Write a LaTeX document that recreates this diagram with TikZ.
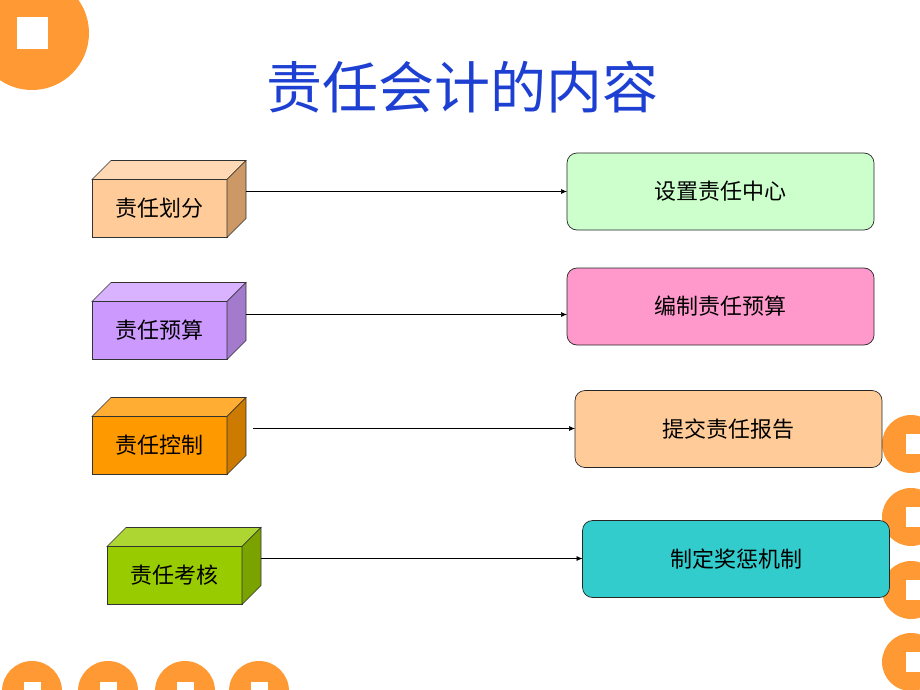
\documentclass[tikz,border=0pt]{standalone}
\usepackage{fontspec}
\setmainfont{Noto Sans CJK SC}
\newfontfamily\cjk{Noto Sans CJK SC}
\usetikzlibrary{arrows.meta,calc}
\definecolor{deco}{RGB}{255,153,51}
\definecolor{titleblue}{RGB}{30,64,210}
\definecolor{f1}{HTML}{FFCC99}\definecolor{t1}{HTML}{FFD9B3}\definecolor{s1}{HTML}{CC9966}
\definecolor{f2}{HTML}{CC99FF}\definecolor{t2}{HTML}{D9B3FF}\definecolor{s2}{HTML}{A37ACC}
\definecolor{f3}{HTML}{FF9900}\definecolor{t3}{HTML}{FFAD33}\definecolor{s3}{HTML}{CC7A00}
\definecolor{f4}{HTML}{99CC00}\definecolor{t4}{HTML}{ADD633}\definecolor{s4}{HTML}{7AA300}
\definecolor{ra}{HTML}{CCFFCC}\definecolor{rb}{HTML}{FF99CC}
\definecolor{rc}{HTML}{FFCC99}\definecolor{rd}{HTML}{33CCCC}
\tikzset{
  dot/.style={fill=deco,draw=none},
  hole/.style={fill=white,draw=none},
  front/.style={draw=black!80,line width=0.6pt,inner sep=0pt,outer sep=0pt,minimum width=135pt,minimum height=58pt,font=\cjk\fontsize{22}{22}\selectfont},
  face/.style={draw=black!80,line width=0.6pt},
  rbox/.style={draw=black!85,line width=0.7pt,rounded corners=10pt,inner sep=0pt,outer sep=0pt,minimum width=307pt,minimum height=77pt,font=\cjk\fontsize{22}{22}\selectfont},
  conn/.style={draw=black,line width=0.6pt,-{Latex[length=6pt,width=5pt]}}
}
\newcommand\cuboid[7]{%
  \node[front,fill=#4] (#1) at (#2+67.5,#3+28.5) {#7};
  \draw[face,fill=#5] (#1.north west) -- ++(19,-19) -- ++(135,0) -- (#1.north east) -- cycle;
  \draw[face,fill=#6] (#1.north east) -- ++(19,-19) -- ++(0,58) -- (#1.south east) -- cycle;
  \coordinate (#1s) at ($(#1.east)+(19,-17)$);
}
\begin{document}
\begin{tikzpicture}[x=1pt,y=-1pt]
\useasboundingbox (0,0) rectangle (920,690);
% decorative coins
\fill[dot] (32,33) circle (57);
\fill[hole] (17,17) rectangle (48,49);
\foreach \yy in {444,517,590,662}{
  \fill[dot] (911,\yy) circle (29);
  \fill[hole] (906,\yy-10) rectangle (930,\yy+10);
}
\foreach \xx in {32,108,185,259}{
  \fill[dot] (\xx,691) circle (30);
  \fill[hole] (\xx-8.5,682) rectangle (\xx+8.5,700);
}
% title
\node[text=titleblue,font=\cjk\fontsize{56}{56}\selectfont] (title) at (462,87) {责任会计的内容};
% left cuboids
\cuboid{b1}{92}{180}{f1}{t1}{s1}{责任划分}
\cuboid{b2}{92}{302}{f2}{t2}{s2}{责任预算}
\cuboid{b3}{92}{417}{f3}{t3}{s3}{责任控制}
\cuboid{b4}{107}{547}{f4}{t4}{s4}{责任考核}
% right boxes
\node[rbox,fill=ra] (r1) at (720.5,191.5) {设置责任中心};
\node[rbox,fill=rb] (r2) at (720.5,306.5) {编制责任预算};
\node[rbox,fill=rc] (r3) at (728.5,429) {提交责任报告};
\node[rbox,fill=rd] (r4) at (736,559) {制定奖惩机制};
% connectors
\draw[conn] (b1s) -- (b1s -| r1.west);
\draw[conn] ($(b2s)+(0,1)$) -- ($(b2s -| r2.west)+(0,1)$);
\draw[conn] ($(b3s)+(7,0)$) -- (b3s -| r3.west);
\draw[conn] (b4s) -- (b4s -| r4.west);
\end{tikzpicture}
\end{document}
